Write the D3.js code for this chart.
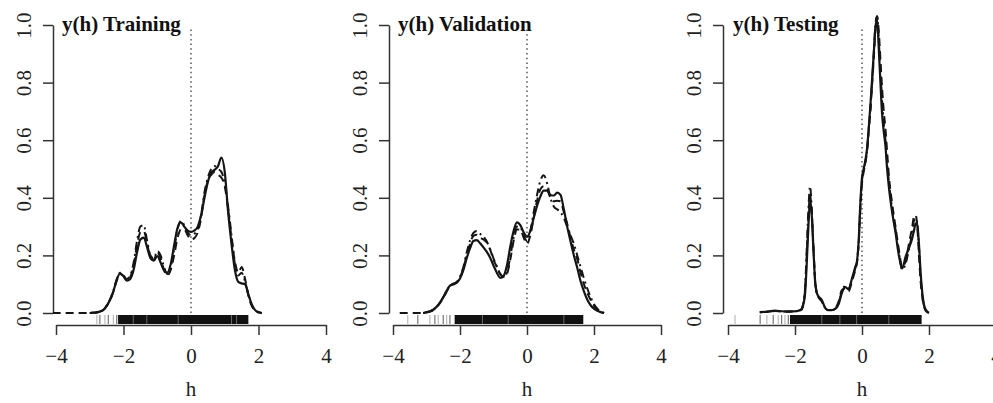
<!DOCTYPE html>
<html>
<head>
<meta charset="utf-8">
<script src="https://cdn.jsdelivr.net/npm/d3@7"></script>
<style>
  body { margin: 0; background: #fff; }
  svg { display: block; font-family: "Liberation Serif", "DejaVu Serif", serif; }
</style>
</head>
<body>
<svg id="chart" width="993" height="403"></svg>
<script>
// ---- data ----
const panelTitles = ["y(h) Training", "y(h) Validation", "y(h) Testing"];
const xTicks = [-4, -2, 0, 2, 4];
const yTicks = [0, 0.2, 0.4, 0.6, 0.8, 1.0];
const refLine = [0, 0.99]; // dotted line at h = 0, from y=0 up to y=0.99

const hTrain = [-4.1, -3.1, -3.0, -2.9, -2.8, -2.7, -2.6, -2.5, -2.4, -2.3, -2.2, -2.1, -2.0, -1.9, -1.8, -1.7, -1.6, -1.5, -1.4, -1.3, -1.2, -1.1, -1.0, -0.9, -0.8, -0.7, -0.6, -0.5, -0.4, -0.3, -0.2, -0.1, 0.0, 0.1, 0.2, 0.3, 0.4, 0.5, 0.6, 0.7, 0.8, 0.9, 1.0, 1.1, 1.2, 1.3, 1.4, 1.5, 1.6, 1.7, 1.8, 1.9, 2.0, 2.1, 2.2, 2.3];
const trainSolid = [null, null, 0.000, 0.001, 0.002, 0.005, 0.010, 0.025, 0.045, 0.075, 0.115, 0.138, 0.128, 0.112, 0.118, 0.150, 0.210, 0.255, 0.262, 0.228, 0.190, 0.182, 0.198, 0.175, 0.148, 0.140, 0.170, 0.235, 0.295, 0.315, 0.300, 0.286, 0.282, 0.286, 0.300, 0.340, 0.400, 0.455, 0.488, 0.497, 0.510, 0.540, 0.490, 0.350, 0.240, 0.150, 0.108, 0.103, 0.100, 0.065, 0.030, 0.010, 0.003, 0.000, null, null];
const trainDashed = [0, 0, 0.000, 0.001, 0.002, 0.005, 0.010, 0.024, 0.044, 0.074, 0.112, 0.135, 0.128, 0.115, 0.125, 0.165, 0.235, 0.280, 0.285, 0.240, 0.195, 0.185, 0.210, 0.190, 0.150, 0.130, 0.150, 0.200, 0.260, 0.290, 0.290, 0.270, 0.255, 0.260, 0.280, 0.330, 0.410, 0.460, 0.480, 0.490, 0.480, 0.470, 0.440, 0.360, 0.260, 0.180, 0.140, 0.160, 0.120, 0.060, 0.025, 0.008, 0.002, 0.000, null, null];
const trainDotDash = [null, null, 0.000, 0.001, 0.002, 0.005, 0.011, 0.026, 0.047, 0.078, 0.118, 0.140, 0.130, 0.118, 0.130, 0.175, 0.250, 0.300, 0.305, 0.250, 0.200, 0.190, 0.215, 0.200, 0.160, 0.135, 0.160, 0.220, 0.290, 0.320, 0.305, 0.280, 0.270, 0.275, 0.290, 0.340, 0.420, 0.470, 0.500, 0.510, 0.500, 0.490, 0.450, 0.370, 0.270, 0.170, 0.130, 0.140, 0.110, 0.065, 0.028, 0.009, 0.002, 0.000, null, null];

const hValid = [-3.8, -3.1, -3.0, -2.9, -2.8, -2.7, -2.6, -2.5, -2.4, -2.3, -2.2, -2.1, -2.0, -1.9, -1.8, -1.7, -1.6, -1.5, -1.4, -1.3, -1.2, -1.1, -1.0, -0.9, -0.8, -0.7, -0.6, -0.5, -0.4, -0.3, -0.2, -0.1, 0.0, 0.1, 0.2, 0.3, 0.4, 0.5, 0.6, 0.7, 0.8, 0.9, 1.0, 1.1, 1.2, 1.3, 1.4, 1.5, 1.6, 1.7, 1.8, 1.9, 2.0, 2.1, 2.2, 2.3];
const validSolid = [null, 0.000, 0.003, 0.006, 0.012, 0.022, 0.036, 0.055, 0.077, 0.095, 0.100, 0.105, 0.120, 0.149, 0.190, 0.225, 0.250, 0.253, 0.242, 0.228, 0.212, 0.192, 0.165, 0.140, 0.122, 0.128, 0.165, 0.230, 0.285, 0.315, 0.305, 0.280, 0.265, 0.285, 0.330, 0.372, 0.405, 0.425, 0.425, 0.410, 0.408, 0.418, 0.410, 0.360, 0.300, 0.248, 0.200, 0.157, 0.110, 0.075, 0.046, 0.027, 0.015, 0.008, 0.003, 0.000];
const validDashed = [0, 0.000, 0.002, 0.005, 0.010, 0.020, 0.034, 0.052, 0.074, 0.092, 0.100, 0.106, 0.123, 0.155, 0.200, 0.240, 0.268, 0.272, 0.262, 0.255, 0.245, 0.220, 0.185, 0.160, 0.135, 0.125, 0.135, 0.185, 0.250, 0.290, 0.290, 0.262, 0.240, 0.270, 0.330, 0.390, 0.430, 0.440, 0.430, 0.400, 0.388, 0.390, 0.388, 0.350, 0.310, 0.262, 0.220, 0.188, 0.140, 0.100, 0.070, 0.045, 0.025, 0.012, 0.005, 0.000];
const validDotDash = [null, 0.000, 0.002, 0.005, 0.011, 0.021, 0.035, 0.054, 0.076, 0.094, 0.102, 0.108, 0.126, 0.160, 0.210, 0.252, 0.278, 0.285, 0.275, 0.265, 0.248, 0.222, 0.190, 0.162, 0.136, 0.126, 0.140, 0.195, 0.262, 0.300, 0.298, 0.270, 0.250, 0.285, 0.350, 0.410, 0.460, 0.478, 0.450, 0.400, 0.370, 0.360, 0.350, 0.330, 0.300, 0.270, 0.240, 0.200, 0.160, 0.120, 0.085, 0.055, 0.030, 0.015, 0.006, 0.000];

const hTest = [-3.05, -2.8, -2.6, -2.4, -2.2, -2.0, -1.9, -1.8, -1.75, -1.7, -1.65, -1.6, -1.55, -1.5, -1.45, -1.4, -1.35, -1.3, -1.2, -1.1, -1.0, -0.9, -0.8, -0.7, -0.6, -0.5, -0.4, -0.3, -0.2, -0.15, -0.1, -0.05, 0.0, 0.05, 0.1, 0.15, 0.2, 0.25, 0.3, 0.35, 0.4, 0.45, 0.5, 0.55, 0.6, 0.65, 0.7, 0.75, 0.8, 0.9, 1.0, 1.1, 1.2, 1.3, 1.4, 1.5, 1.55, 1.6, 1.65, 1.7, 1.75, 1.8, 1.85, 1.9, 2.0];
const testSolid = [0.003, 0.005, 0.008, 0.006, 0.005, 0.006, 0.008, 0.012, 0.030, 0.065, 0.170, 0.300, 0.395, 0.340, 0.220, 0.110, 0.070, 0.058, 0.045, 0.018, 0.010, 0.010, 0.014, 0.030, 0.070, 0.090, 0.082, 0.120, 0.160, 0.180, 0.250, 0.380, 0.470, 0.500, 0.530, 0.570, 0.640, 0.720, 0.810, 0.900, 0.990, 1.020, 0.920, 0.800, 0.690, 0.630, 0.580, 0.500, 0.440, 0.350, 0.280, 0.200, 0.155, 0.195, 0.225, 0.260, 0.285, 0.310, 0.305, 0.240, 0.140, 0.070, 0.030, 0.012, 0.000];
const testDashed = [0.003, 0.004, 0.007, 0.006, 0.005, 0.006, 0.008, 0.015, 0.035, 0.080, 0.200, 0.330, 0.410, 0.350, 0.230, 0.115, 0.070, 0.055, 0.040, 0.016, 0.010, 0.010, 0.016, 0.040, 0.080, 0.085, 0.075, 0.110, 0.150, 0.175, 0.240, 0.360, 0.450, 0.490, 0.520, 0.560, 0.630, 0.700, 0.790, 0.880, 0.980, 1.030, 0.980, 0.880, 0.780, 0.700, 0.640, 0.560, 0.480, 0.380, 0.300, 0.220, 0.160, 0.180, 0.240, 0.300, 0.335, 0.340, 0.300, 0.200, 0.110, 0.055, 0.022, 0.008, 0.000];
const testDotDash = [0.003, 0.005, 0.007, 0.006, 0.005, 0.006, 0.008, 0.014, 0.035, 0.085, 0.220, 0.360, 0.440, 0.360, 0.230, 0.110, 0.068, 0.055, 0.042, 0.017, 0.010, 0.010, 0.015, 0.035, 0.075, 0.095, 0.085, 0.115, 0.155, 0.178, 0.245, 0.370, 0.460, 0.495, 0.525, 0.565, 0.640, 0.710, 0.800, 0.900, 1.000, 1.030, 0.950, 0.840, 0.740, 0.660, 0.600, 0.520, 0.460, 0.360, 0.290, 0.210, 0.150, 0.170, 0.220, 0.280, 0.320, 0.330, 0.310, 0.230, 0.130, 0.060, 0.025, 0.010, 0.000];

// rug: dense band [start, end], sparse single ticks outside it, lighter ticks inside it
const rugBands = [[-2.16, 1.70], [-2.16, 1.68], [-2.15, 1.78]];
const rugSparse = [
  [-2.79, -2.70, -2.55, -2.45, -2.30, -2.20],
  [-3.56, -3.26, -2.90, -2.75, -2.65, -2.50, -2.40, -2.30],
  [-3.79, -3.04, -2.84, -2.65, -2.50, -2.40, -2.30, -2.20]
];
const rugLight = [
  [-1.71, -1.31, -0.38, 1.20, 1.35],
  [-1.33, -0.56, 1.10],
  [-1.20, -0.66, -0.16, 0.80]
];

const panels = [
  { h: hTrain, series: [trainSolid, trainDashed, trainDotDash] },
  { h: hValid, series: [validSolid, validDashed, validDotDash] },
  { h: hTest, series: [testSolid, testDashed, testDotDash] }
];

// ---- layout ----
const layout = [
  { x0: 56, x1: 326, axisX: 53, titleX: 62 },
  { x0: 393, x1: 661, axisX: 389, titleX: 398 },
  { x0: 728, x1: 996, axisX: 723, titleX: 733 }
];
const yTop = 25, yBottom = 313, xAxisY = 325;
const rugTop = 315, rugBottom = 324;
const lineStyles = [
  { dash: null },
  { dash: "8,5" },
  { dash: "2,4,8,4" }
];
const ink = "#151515";

const svg = d3.select("#chart");

panels.forEach((p, i) => {
  const L = layout[i];
  const x = d3.scaleLinear().domain([-4, 4]).range([L.x0, L.x1]);
  const y = d3.scaleLinear().domain([0, 1]).range([yBottom, yTop]);
  const g = svg.append("g");

  // clip to the plot region
  const clipId = "clip" + i;
  svg.append("clipPath").attr("id", clipId)
    .append("rect")
    .attr("x", L.axisX).attr("y", 10)
    .attr("width", L.x1 + 10 - L.axisX).attr("height", xAxisY - 10);

  // y axis
  const yAxis = g.append("g")
    .attr("transform", `translate(${L.axisX},0)`)
    .call(d3.axisLeft(y).tickValues(yTicks).tickFormat(d3.format(".1f")).tickSize(10).tickSizeOuter(0));
  yAxis.select(".domain").attr("stroke", "#333").attr("stroke-width", 1.5);
  yAxis.selectAll(".tick line").attr("stroke", "#333").attr("stroke-width", 1.5);
  yAxis.selectAll(".tick text")
    .attr("x", null).attr("dy", null)
    .attr("transform", "translate(-22,0) rotate(-90)")
    .attr("text-anchor", "middle")
    .attr("font-size", 21)
    .attr("font-family", "Liberation Serif")
    .attr("fill", "#222");

  // x axis
  const xAxis = g.append("g")
    .attr("transform", `translate(0,${xAxisY})`)
    .call(d3.axisBottom(x).tickValues(xTicks).tickSize(10).tickSizeOuter(0));
  xAxis.select(".domain").attr("stroke", "#333").attr("stroke-width", 1.5);
  xAxis.selectAll(".tick line").attr("stroke", "#333").attr("stroke-width", 1.5);
  xAxis.selectAll(".tick text")
    .attr("y", 38).attr("dy", null)
    .attr("font-size", 21)
    .attr("font-family", "Liberation Serif")
    .attr("fill", "#222");

  // x label
  g.append("text")
    .attr("x", x(0)).attr("y", 396)
    .attr("text-anchor", "middle")
    .attr("font-size", 21)
    .attr("fill", "#222")
    .text("h");

  // title
  g.append("text")
    .attr("x", L.titleX).attr("y", 31)
    .attr("font-size", 21)
    .attr("font-weight", "bold")
    .attr("fill", "#111")
    .text(panelTitles[i]);

  // dotted reference line at h = 0
  g.append("line")
    .attr("x1", x(0)).attr("x2", x(0))
    .attr("y1", y(refLine[0])).attr("y2", y(refLine[1]))
    .attr("stroke", "#555").attr("stroke-width", 1.5)
    .attr("stroke-dasharray", "1.5,3.2");

  // rug
  const rug = g.append("g");
  rug.append("rect")
    .attr("x", x(rugBands[i][0])).attr("y", rugTop)
    .attr("width", x(rugBands[i][1]) - x(rugBands[i][0]))
    .attr("height", rugBottom - rugTop)
    .attr("fill", "#111");
  rug.selectAll(".sparse").data(rugSparse[i]).enter().append("line")
    .attr("x1", d => x(d)).attr("x2", d => x(d))
    .attr("y1", rugTop).attr("y2", rugBottom)
    .attr("stroke", (d, k) => k % 2 ? "#777" : "#bbb")
    .attr("stroke-width", 1.2);
  rug.selectAll(".light").data(rugLight[i]).enter().append("line")
    .attr("x1", d => x(d)).attr("x2", d => x(d))
    .attr("y1", rugTop).attr("y2", rugBottom)
    .attr("stroke", "#666")
    .attr("stroke-width", 1);

  // density curves
  const plot = g.append("g").attr("clip-path", `url(#${clipId})`);
  p.series.forEach((vals, s) => {
    const pts = p.h.map((hv, k) => [hv, vals[k]]);
    const line = d3.line()
      .defined(d => d[1] !== null)
      .x(d => x(d[0]))
      .y(d => y(d[1]))
      .curve(d3.curveMonotoneX);
    plot.append("path")
      .datum(pts)
      .attr("d", line)
      .attr("fill", "none")
      .attr("stroke", ink)
      .attr("stroke-width", s === 0 ? 2.2 : 2)
      .attr("stroke-linejoin", "round")
      .attr("stroke-dasharray", lineStyles[s].dash);
  });
});
</script>
</body>
</html>
